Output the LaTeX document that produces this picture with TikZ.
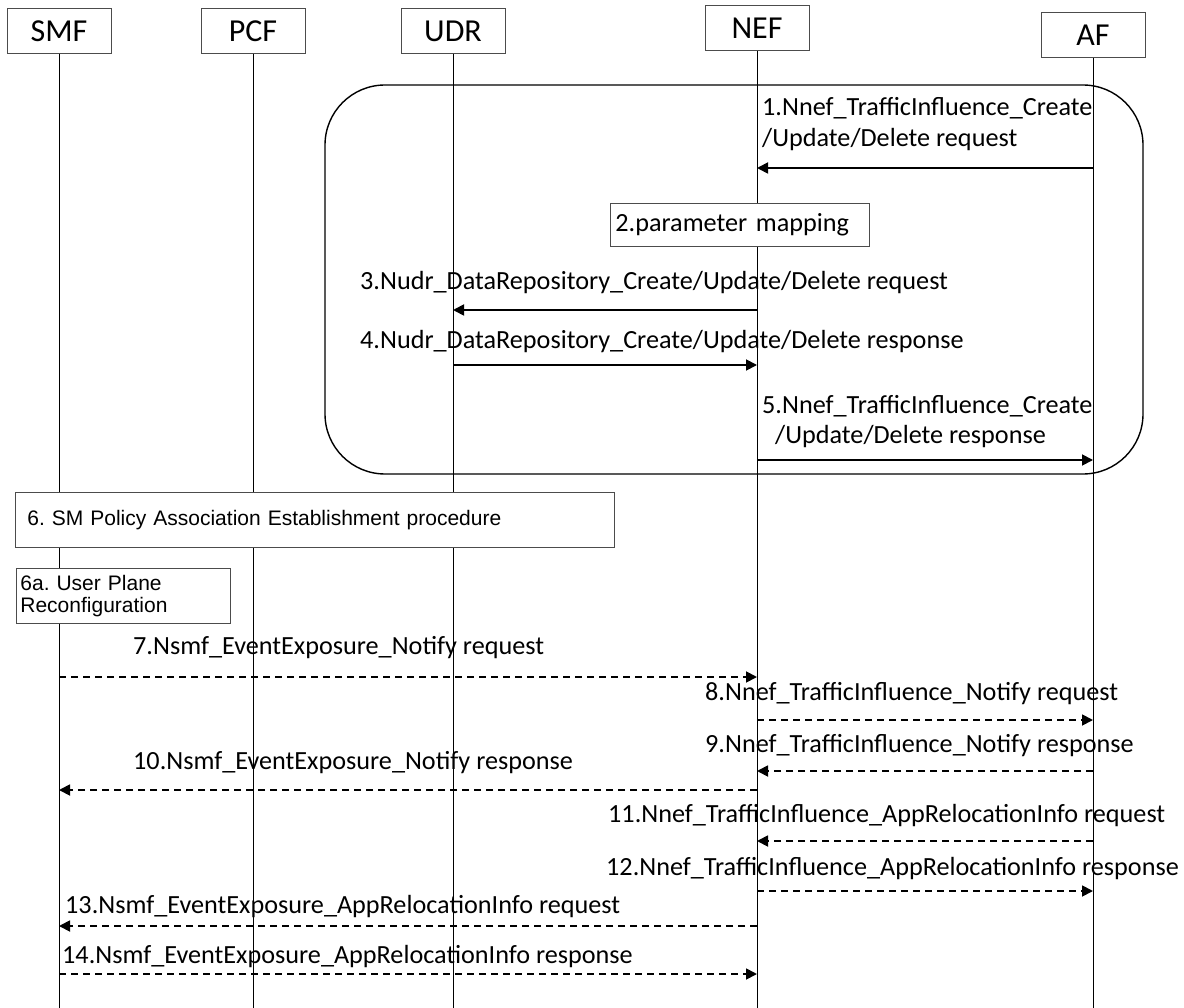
\documentclass[tikz,border=0pt]{standalone}
\usepackage{fontspec}
\setmainfont{Carlito}
\newfontfamily\arialfont{Liberation Sans}
\usetikzlibrary{arrows.meta}
\frenchspacing

\tikzset{
    entity/.style={draw=black!70, line width=0.8pt, minimum width=104pt, minimum height=45pt, font=\fontsize{32}{32}\selectfont},
    lifeline/.style={line width=1pt},
    msglabel/.style={anchor=west, inner sep=0pt, font=\fontsize{26.2}{26}\selectfont},
    stepbox/.style={draw=black!70, line width=0.8pt, fill=white, align=left, anchor=north west},
    msg/.style={line width=1.8pt, -{Triangle[length=11pt,width=11pt]}},
    dmsg/.style={msg, dash pattern=on 7pt off 5pt}
}

\begin{document}
\begin{tikzpicture}[x=1pt, y=-1pt]
    \useasboundingbox (0,0) rectangle (1184,1008);
    % First, locate each of the entities and name them
        \node[entity] (smf) at (59, 31) {SMF};
        \node[entity] (pcf) at (253, 31) {PCF};
        \node[entity] (udr) at (453, 31) {UDR};
        \node[entity] (nef) at (757, 28) {NEF};
        \node[entity] (af) at (1093, 35) {AF};
        \coordinate (bottom) at (0, 1008);

    % Now draw the lifelines:
        \draw [lifeline] (smf) -- (smf |- bottom);
        \draw [lifeline] (pcf) -- (pcf |- bottom);
        \draw [lifeline] (udr) -- (udr |- bottom);
        \draw [lifeline] (nef) -- (nef |- bottom);
        \draw [lifeline] (af) -- (af |- bottom);

    % The frame round steps 1 to 5
        \draw [line width=1.4pt, rounded corners=60pt] (325, 85) rectangle (1143, 474);

    % Boxes for the local steps
        \node[stepbox, text width=249pt, minimum height=43pt, inner xsep=5pt, font=\fontsize{26.2}{26}\selectfont] (map) at (610, 203) {2.parameter mapping};
        \node[stepbox, text width=575pt, minimum height=55pt, inner xsep=12pt, font=\arialfont\fontsize{21}{22}\selectfont] (smpa) at (15, 492) {6. SM Policy Association Establishment procedure};
        \node[stepbox, text width=206pt, minimum height=55pt, inner xsep=4pt, inner ysep=2pt, font=\arialfont\fontsize{21}{22}\selectfont] (upr) at (16, 568) {6a. User Plane\\Reconfiguration};

    % Message labels
        \node[msglabel] (l1) at (762, 108) {1.Nnef\_TrafficInfluence\_Create};
        \node[msglabel] (l1b) at (762, 140) {/Update/Delete request};
        \node[msglabel] (l3) at (360, 283) {3.Nudr\_DataRepository\_Create/Update/Delete request};
        \node[msglabel] (l4) at (360, 342) {4.Nudr\_DataRepository\_Create/Update/Delete response};
        \node[msglabel] (l5) at (762, 406) {5.Nnef\_TrafficInfluence\_Create};
        \node[msglabel] (l5b) at (775, 437) {/Update/Delete response};
        \node[msglabel] (l7) at (133, 648) {7.Nsmf\_EventExposure\_Notify request};
        \node[msglabel] (l8) at (705, 694) {8.Nnef\_TrafficInfluence\_Notify request};
        \node[msglabel] (l9) at (705, 746) {9.Nnef\_TrafficInfluence\_Notify response};
        \node[msglabel] (l10) at (133, 763) {10.Nsmf\_EventExposure\_Notify response};
        \node[msglabel] (l11) at (608, 816) {11.Nnef\_TrafficInfluence\_AppRelocationInfo request};
        \node[msglabel] (l12) at (606, 869) {12.Nnef\_TrafficInfluence\_AppRelocationInfo response};
        \node[msglabel] (l13) at (65, 907) {13.Nsmf\_EventExposure\_AppRelocationInfo request};
        \node[msglabel] (l14) at (62, 957) {14.Nsmf\_EventExposure\_AppRelocationInfo response};

    % Heights of the messages
        \coordinate (y1) at (0, 168);
        \coordinate (y3) at (0, 310);
        \coordinate (y4) at (0, 365);
        \coordinate (y5) at (0, 460);
        \coordinate (y7) at (0, 677);
        \coordinate (y8) at (0, 720);
        \coordinate (y9) at (0, 771);
        \coordinate (y10) at (0, 790);
        \coordinate (y11) at (0, 841);
        \coordinate (y12) at (0, 891);
        \coordinate (y13) at (0, 926);
        \coordinate (y14) at (0, 974);

    % Now draw the messages:
        \draw [msg] (af |- y1) -- (nef |- y1);
        \draw [msg] (nef |- y3) -- (udr |- y3);
        \draw [msg] (udr |- y4) -- (nef |- y4);
        \draw [msg] (nef |- y5) -- (af |- y5);
        \draw [dmsg] (smf |- y7) -- (nef |- y7);
        \draw [dmsg] (nef |- y8) -- (af |- y8);
        \draw [dmsg] (af |- y9) -- (nef |- y9);
        \draw [dmsg] (nef |- y10) -- (smf |- y10);
        \draw [dmsg] (af |- y11) -- (nef |- y11);
        \draw [dmsg] (nef |- y12) -- (af |- y12);
        \draw [dmsg] (nef |- y13) -- (smf |- y13);
        \draw [dmsg] (smf |- y14) -- (nef |- y14);
\end{tikzpicture}
\end{document}
